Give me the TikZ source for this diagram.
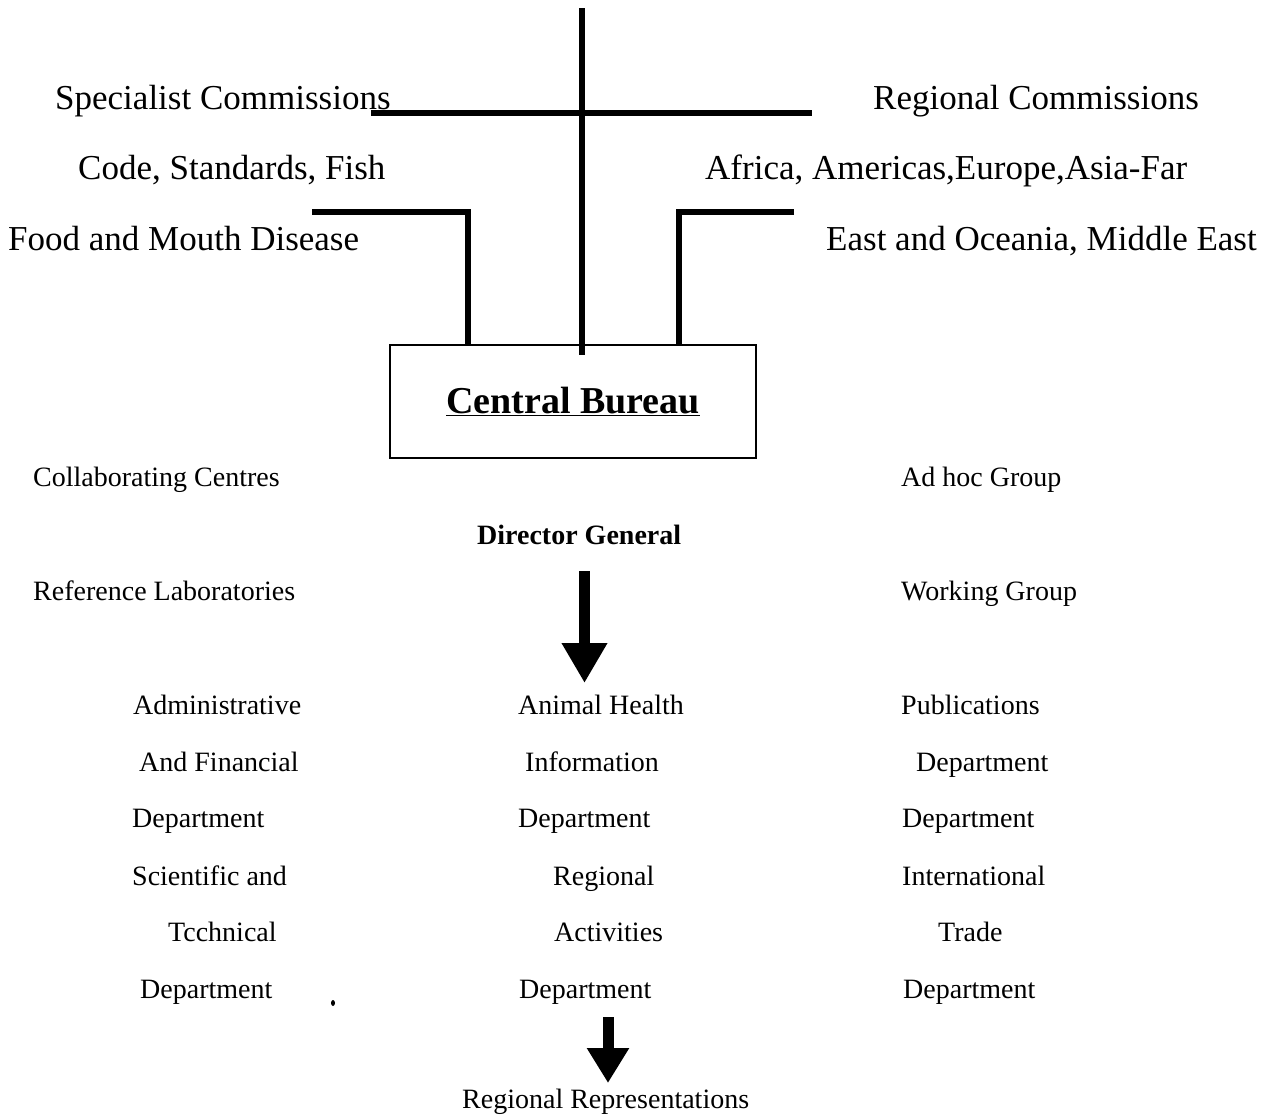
\documentclass[tikz,border=0pt]{standalone}
\usepackage{fontspec}
\setmainfont{Liberation Serif}
\usetikzlibrary{arrows.meta}

\tikzset{
  big/.style={anchor=base west,inner sep=0pt,font=\fontsize{35}{42}\selectfont},
  small/.style={anchor=base west,inner sep=0pt,font=\fontsize{28}{34}\selectfont},
  bar/.style={line width=6pt},
  fatarrow/.style={line width=11pt,-{Triangle[width=43pt,length=40pt]}}
}

\begin{document}
\begin{tikzpicture}[x=1pt,y=-1pt]
  \useasboundingbox (0,0) rectangle (1277,1119);
  % commissions
  \node[big] (spec) at (55,109) {Specialist Commissions};
  \node[big] (code) at (78,179) {Code, Standards, Fish};
  \node[big] (fmd) at (8,250) {Food and Mouth Disease};
  \node[big] (reg) at (873,109) {Regional Commissions};
  \node[big] (afr) at (705,179) {Africa, Americas,Europe,Asia-Far};
  \node[big] (east) at (826,250) {East and Oceania, Middle East};
  % central bureau
  \node[draw,line width=1.3pt,minimum width=366pt,minimum height=113pt,inner sep=0pt,
        font=\fontsize{38}{44}\selectfont] (bureau) at (573,401.5) {\underline{\textbf{Central Bureau}}};
  \coordinate (top) at (582,8);
  \coordinate (bot) at (582,355);
  \coordinate (hl) at (371,113);
  \coordinate (hr) at (812,113);
  \coordinate (ll) at (312,212);
  \coordinate (rr) at (794,212);
  \draw[bar] (top) -- (bot);
  \draw[bar] (hl) -- (hr);
  \draw[bar,line join=miter] (ll) -- (468,212) -- (468,345);
  \draw[bar,line join=miter] (rr) -- (679,212) -- (679,345);
  % side groups
  \node[small] (collab) at (33,486) {Collaborating Centres};
  \node[small] (refl) at (33,600) {Reference Laboratories};
  \node[small] (adhoc) at (901,486) {Ad hoc Group};
  \node[small] (work) at (901,600) {Working Group};
  \node[small,font=\fontsize{28}{34}\selectfont\bfseries] (dg) at (477,544) {Director General};
  % departments
  \node[small] (l1) at (133,714) {Administrative};
  \node[small] (l2) at (139,771) {And Financial};
  \node[small] (l3) at (132,827) {Department};
  \node[small] (l4) at (132,885) {Scientific and};
  \node[small] (l5) at (168,941) {Tcchnical};
  \node[small] (l6) at (140,998) {Department};
  \node[small] (m1) at (518,714) {Animal Health};
  \node[small] (m2) at (525,771) {Information};
  \node[small] (m3) at (518,827) {Department};
  \node[small] (m4) at (553,885) {Regional};
  \node[small] (m5) at (554,941) {Activities};
  \node[small] (m6) at (519,998) {Department};
  \node[small] (r1) at (901,714) {Publications};
  \node[small] (r2) at (916,771) {Department};
  \node[small] (r3) at (902,827) {Department};
  \node[small] (r4) at (902,885) {International};
  \node[small] (r5) at (938,941) {Trade};
  \node[small] (r6) at (903,998) {Department};
  \node[small] (repr) at (462,1108) {Regional Representations};
  % arrows
  \coordinate (a1) at (584.5,571);
  \coordinate (a1e) at (584.5,683);
  \coordinate (a2) at (608,1017);
  \coordinate (a2e) at (608,1083);
  \draw[fatarrow] (a1) -- (a1e);
  \draw[fatarrow,-{Triangle[width=40pt,length=35pt]}] (a2) -- (a2e);
  \fill (333,1003) ellipse (2pt and 3pt);
\end{tikzpicture}
\end{document}
